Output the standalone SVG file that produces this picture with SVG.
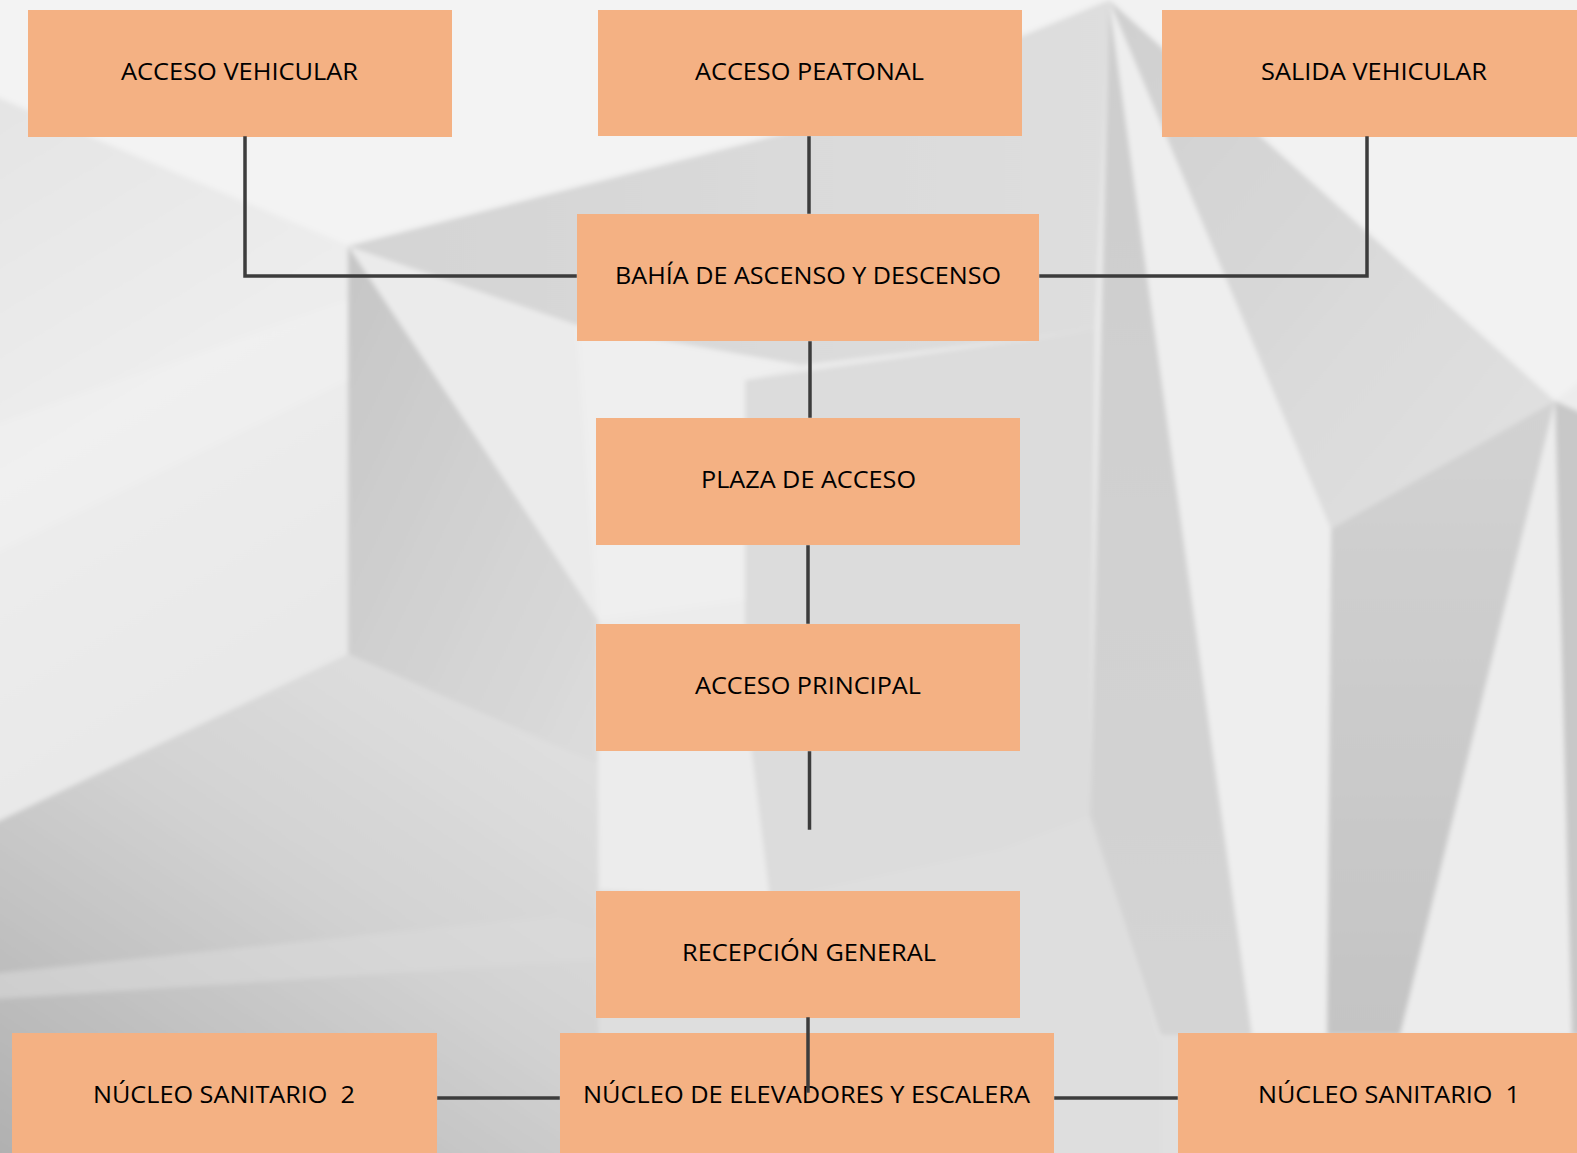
<svg xmlns="http://www.w3.org/2000/svg" width="1577" height="1153" viewBox="0 0 1577 1153">
<defs>
<style>
.box{fill:#F4B183;}
.lbl{font-family:"Open Sans","Liberation Sans",sans-serif;font-size:24px;fill:#000000;white-space:pre;}
.con{stroke:#3c3c3c;stroke-width:3.5;fill:none;stroke-linecap:square;}
</style>
<linearGradient id="gLeft" x1="0" y1="0" x2="0.3" y2="1"><stop offset="0" stop-color="#e4e4e4"/><stop offset="0.5" stop-color="#ededed"/><stop offset="1" stop-color="#e8e8e8"/></linearGradient>
<linearGradient id="gWedge" x1="0" y1="0" x2="1" y2="1"><stop offset="0" stop-color="#c6c6c6"/><stop offset="1" stop-color="#dcdcdc"/></linearGradient>
<linearGradient id="gLow" x1="0" y1="1" x2="0.8" y2="0"><stop offset="0" stop-color="#aeaeae"/><stop offset="0.6" stop-color="#d2d2d2"/><stop offset="1" stop-color="#e0e0e0"/></linearGradient>
<linearGradient id="gR" x1="0" y1="0" x2="0" y2="1"><stop offset="0" stop-color="#d2d2d2"/><stop offset="1" stop-color="#c4c4c4"/></linearGradient>
<linearGradient id="gTR" x1="0" y1="0" x2="1" y2="1"><stop offset="0" stop-color="#cfcfcf"/><stop offset="1" stop-color="#e2e2e2"/></linearGradient>
<linearGradient id="gBand" x1="0" y1="0" x2="1" y2="0"><stop offset="0" stop-color="#d4d4d4"/><stop offset="1" stop-color="#dedede"/></linearGradient>
<linearGradient id="gSpike" x1="0" y1="0" x2="0" y2="1"><stop offset="0" stop-color="#cdcdcd"/><stop offset="1" stop-color="#d4d4d4"/></linearGradient>
<filter id="soft" x="-5%" y="-5%" width="110%" height="110%"><feGaussianBlur stdDeviation="2.5"/></filter>
</defs>
<g id="background" filter="url(#soft)">
<rect x="-20" y="-20" width="1617" height="1193" fill="#ebebeb"/>
<polygon points="-20,-20 1109,-20 1109,0 790,132 348,246 -20,90" fill="#f3f3f3"/>
<polygon points="-20,90 348,246 348,654 -20,830" fill="url(#gLeft)"/>
<polygon points="-20,430 348,300 348,380 -20,560" fill="#f1f1f1" opacity="0.6"/>
<polygon points="348,246 790,132 1109,0 1095,330 800,365 577,325" fill="url(#gBand)"/>
<polygon points="577,325 800,365 745,380 745,600 598,620" fill="#efefef"/>
<polygon points="745,380 1095,330 1090,816 1000,850 770,900 745,700" fill="#dcdcdc"/>
<polygon points="598,620 745,600 745,700 770,900 598,890" fill="#ececec"/>
<polygon points="348,246 598,620 598,765 348,654" fill="url(#gWedge)"/>
<polygon points="-20,830 348,654 598,765 600,1173 -20,1173" fill="url(#gLow)"/>
<polygon points="-20,975 560,915 600,930 600,960 -20,1000" fill="#dadada" opacity="0.6"/>
<polygon points="600,890 770,900 1000,850 1090,816 1160,1040 1160,1173 600,1173" fill="#dedede"/>
<polygon points="1109,0 1090,816 1160,1035 1252,1035" fill="url(#gSpike)"/>
<polygon points="1109,0 1331,529 1327,1035 1252,1035" fill="#eeeeee"/>
<polygon points="1109,-20 1597,-20 1597,370 1555,401 1109,0" fill="#f2f2f2"/>
<polygon points="1109,0 1555,401 1331,529" fill="url(#gTR)"/>
<polygon points="1331,529 1555,401 1400,1035 1327,1035" fill="url(#gR)"/>
<polygon points="1555,401 1597,370 1597,1173 1400,1040" fill="#ececec"/>
<polygon points="1555,401 1597,420 1597,1040 1572,1040" fill="#c8c8c8"/>
<polygon points="1160,1035 1597,1035 1597,1173 1160,1173" fill="#e0e0e0"/>
</g>
<g id="node-acceso-vehicular"><rect class="box" x="28" y="10" width="424" height="127"/><text class="lbl" x="121" y="80" textLength="237" lengthAdjust="spacingAndGlyphs">ACCESO VEHICULAR</text></g>
<g id="node-acceso-peatonal"><rect class="box" x="598" y="10" width="424" height="126"/><text class="lbl" x="695" y="80" textLength="229" lengthAdjust="spacingAndGlyphs">ACCESO PEATONAL</text></g>
<g id="node-salida-vehicular"><rect class="box" x="1162" y="10" width="415" height="127"/><text class="lbl" x="1261" y="80" textLength="226" lengthAdjust="spacingAndGlyphs">SALIDA VEHICULAR</text></g>
<g id="node-bahia"><rect class="box" x="577" y="214" width="462" height="127"/><text class="lbl" x="615" y="284" textLength="386" lengthAdjust="spacingAndGlyphs">BAHÍA DE ASCENSO Y DESCENSO</text></g>
<g id="node-plaza"><rect class="box" x="596" y="418" width="424" height="127"/><text class="lbl" x="701" y="488" textLength="215" lengthAdjust="spacingAndGlyphs">PLAZA DE ACCESO</text></g>
<g id="node-acceso-principal"><rect class="box" x="596" y="624" width="424" height="127"/><text class="lbl" x="695" y="694" textLength="226" lengthAdjust="spacingAndGlyphs">ACCESO PRINCIPAL</text></g>
<g id="node-recepcion"><rect class="box" x="596" y="891" width="424" height="127"/><text class="lbl" x="682" y="961" textLength="254" lengthAdjust="spacingAndGlyphs">RECEPCIÓN GENERAL</text></g>
<g id="node-sanitario-2"><rect class="box" x="12" y="1033" width="425" height="130"/><text class="lbl" x="93" y="1103" textLength="262" lengthAdjust="spacingAndGlyphs">NÚCLEO SANITARIO  2</text></g>
<g id="node-elevadores"><rect class="box" x="560" y="1033" width="494" height="130"/><text class="lbl" x="583" y="1103" textLength="447" lengthAdjust="spacingAndGlyphs">NÚCLEO DE ELEVADORES Y ESCALERA</text></g>
<g id="node-sanitario-1"><rect class="box" x="1178" y="1033" width="410" height="130"/><text class="lbl" x="1258" y="1103" textLength="262" lengthAdjust="spacingAndGlyphs">NÚCLEO SANITARIO  1</text></g>
<g id="connectors">
<polyline class="con" points="245,138 245,276 575,276"/>
<line class="con" x1="809" y1="138" x2="809" y2="212"/>
<polyline class="con" points="1367,138 1367,276 1041,276"/>
<line class="con" x1="810" y1="343" x2="810" y2="416"/>
<line class="con" x1="808" y1="547" x2="808" y2="622"/>
<line class="con" x1="809.5" y1="753" x2="809.5" y2="828"/>
<line class="con" x1="808" y1="1019" x2="808" y2="1091"/>
<line class="con" x1="439" y1="1098" x2="558" y2="1098"/>
<line class="con" x1="1056" y1="1098" x2="1176" y2="1098"/>
</g>
</svg>
